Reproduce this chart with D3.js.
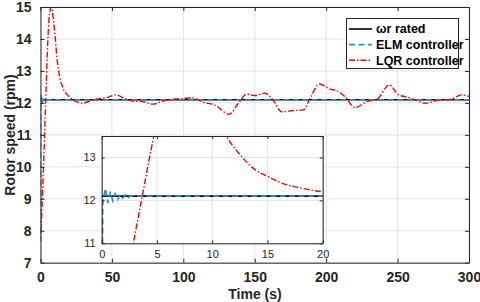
<!DOCTYPE html>
<html>
<head>
<meta charset="utf-8">
<script src="https://cdn.jsdelivr.net/npm/d3@7"></script>
<style>
  body { margin: 0; background: #fff; }
  svg { display: block; font-family: "Liberation Sans", Arial, sans-serif; }
  .main .tick text { font-size: 14px; font-weight: bold; fill: #262626; }
  .inset .tick text { font-size: 11px; fill: #262626; }
  .domain { stroke: #262626; }
  .tick line { stroke: #262626; }
</style>
</head>
<body>
<svg id="chart" width="480" height="302"></svg>
<script>
// rated speed
const ratedSpeed = 12.1;

// ELM controller response (time s, rpm)
const elmTime  = [0, 0.1, 0.33, 0.55, 0.78, 1.0, 1.22, 1.45, 1.68, 1.9, 2.15, 2.4, 2.65, 3.0, 4, 300];
const elmSpeed = [7.9, 11.95, 12.28, 11.94, 12.2, 11.99, 12.16, 12.02, 12.14, 12.05, 12.13, 12.07, 12.11, 12.1, 12.1, 12.1];

// LQR controller response (time s, rpm)
const lqrTime = [0, 0.5, 1, 2, 2.86, 3.67, 4.73, 5.5, 6.5, 7.5, 8.5, 9.5, 10.5, 11.3, 12.67, 13.9, 15.1, 16.3, 17.8, 19.9,
  24.9, 29.5, 35.4, 40, 46, 52.9, 58.7, 64.5, 71.5, 78.6, 85.6, 94.9, 99, 105.9, 114, 122.2, 132.2, 138.5, 144.4,
  150.2, 157.2, 163, 168.9, 177, 184, 188.7, 195.2, 202.7, 207.4, 213.2, 220.2, 228.4, 235.4, 244.3, 250.6, 257.6,
  263.4, 269.3, 277.5, 286.8, 295, 300];
const lqrSpeed = [7.66, 8.15, 8.7, 9.85, 11.0, 12.1, 13.5, 14.3, 14.85, 15.0, 14.8, 14.4, 13.95, 13.5, 13.02, 12.71, 12.55, 12.4, 12.3, 12.2,
  12.04, 11.99, 12.07, 12.12, 12.16, 12.25, 12.14, 12.06, 12.04, 11.96, 12.06, 12.12, 12.13, 12.16, 12.02, 11.93, 11.64, 11.99, 12.27,
  12.23, 12.3, 12.07, 11.72, 11.76, 11.78, 12.14, 12.59, 12.43, 12.38, 12.19, 11.85, 12.04, 12.11, 12.56, 12.25, 12.17,
  12.07, 11.99, 12.07, 12.11, 12.25, 12.2];

const xTicks = [0, 50, 100, 150, 200, 250, 300];
const yTicks = [7, 8, 9, 10, 11, 12, 13, 14, 15];
const insetXTicks = [0, 5, 10, 15, 20];
const insetYTicks = [11, 12, 13];

const legendLabels = ["\u03c9r rated", "ELM controller", "LQR controller"];

const elm = elmTime.map((t, i) => ({t, v: elmSpeed[i]}));
const lqr = lqrTime.map((t, i) => ({t, v: lqrSpeed[i]}));
const rated = [{t: 0, v: ratedSpeed}, {t: 300, v: ratedSpeed}];

const svg = d3.select("#chart");

const styles = [
  {color: "#000000", dash: null, width: 1.6, curve: d3.curveLinear},
  {color: "#1f8fdc", dash: "6,3.5", width: 1.6, curve: d3.curveLinear},
  {color: "#ff0000", dash: "6,2,1.5,2", width: 1.4, curve: d3.curveMonotoneX}
];

function panel(g, x, y, xt, yt, cls, clipId) {
  const [x0, x1] = x.range();
  const [y0, y1] = y.range();
  g.attr("class", cls);
  g.append("rect").attr("x", x0).attr("y", y1).attr("width", x1 - x0).attr("height", y0 - y1).attr("fill", "#fff");
  // grid
  g.append("g").selectAll("line").data(xt).join("line")
    .attr("x1", d => x(d)).attr("x2", d => x(d)).attr("y1", y0).attr("y2", y1)
    .attr("stroke", "#e3e3e3");
  g.append("g").selectAll("line").data(yt).join("line")
    .attr("y1", d => y(d)).attr("y2", d => y(d)).attr("x1", x0).attr("x2", x1)
    .attr("stroke", "#e3e3e3");

  g.append("clipPath").attr("id", clipId).append("rect")
    .attr("x", x0).attr("y", y1).attr("width", x1 - x0).attr("height", y0 - y1);

  const lines = g.append("g").attr("clip-path", `url(#${clipId})`);
  [rated, elm, lqr].forEach((data, i) => {
    const line = d3.line().x(d => x(d.t)).y(d => y(d.v)).curve(styles[i].curve);
    lines.append("path").datum(data).attr("d", line)
      .attr("fill", "none").attr("stroke", styles[i].color)
      .attr("stroke-width", styles[i].width)
      .attr("stroke-dasharray", styles[i].dash);
  });

  const big = cls === "main";
  const ts = big ? 4 : 3;
  const fmt = d3.format("d");
  g.append("g").attr("transform", `translate(0,${y0})`)
    .call(d3.axisBottom(x).tickValues(xt).tickFormat(fmt).tickSizeInner(-ts).tickSizeOuter(0).tickPadding(big ? 9 : 7));
  g.append("g").attr("transform", `translate(0,${y1})`)
    .call(d3.axisTop(x).tickValues(xt).tickSizeInner(-ts).tickSizeOuter(0).tickFormat(""));
  g.append("g").attr("transform", `translate(${x0},0)`)
    .call(d3.axisLeft(y).tickValues(yt).tickFormat(fmt).tickSizeInner(-ts).tickSizeOuter(0).tickPadding(big ? 9 : 6));
  g.append("g").attr("transform", `translate(${x1},0)`)
    .call(d3.axisRight(y).tickValues(yt).tickSizeInner(-ts).tickSizeOuter(0).tickFormat(""));
}

// main axes
const x = d3.scaleLinear().domain([0, 300]).range([40.5, 469]);
const y = d3.scaleLinear().domain([7, 15]).range([262.7, 7]);
panel(svg.append("g"), x, y, xTicks, yTicks, "main", "clipMain");

// inset axes
const xi = d3.scaleLinear().domain([0, 20]).range([101.7, 322.7]);
const yi = d3.scaleLinear().domain([11, 13.5]).range([243.3, 136]);
panel(svg.append("g"), xi, yi, insetXTicks, insetYTicks, "inset", "clipInset");

// axis titles
svg.append("text").attr("x", 255).attr("y", 299)
  .attr("text-anchor", "middle").attr("font-size", 14).attr("font-weight", "bold").attr("fill", "#262626")
  .text("Time (s)");
svg.append("text").attr("transform", "translate(15,135) rotate(-90)")
  .attr("text-anchor", "middle").attr("font-size", 14).attr("font-weight", "bold").attr("fill", "#262626")
  .text("Rotor speed (rpm)");

// legend
const lg = svg.append("g");
lg.append("rect").attr("x", 346.5).attr("y", 18.5).attr("width", 112).attr("height", 50)
  .attr("fill", "#fff").attr("stroke", "#262626").attr("stroke-width", 1);
legendLabels.forEach((label, i) => {
  const yy = 29 + i * 15.6;
  lg.append("line").attr("x1", 349).attr("x2", 372).attr("y1", yy).attr("y2", yy)
    .attr("stroke", styles[i].color).attr("stroke-width", styles[i].width)
    .attr("stroke-dasharray", styles[i].dash);
  lg.append("text").attr("x", 376).attr("y", yy).attr("dy", "0.35em")
    .attr("font-size", 12.5).attr("font-weight", "bold").attr("fill", "#000")
    .text(label);
});
</script>
</body>
</html>
